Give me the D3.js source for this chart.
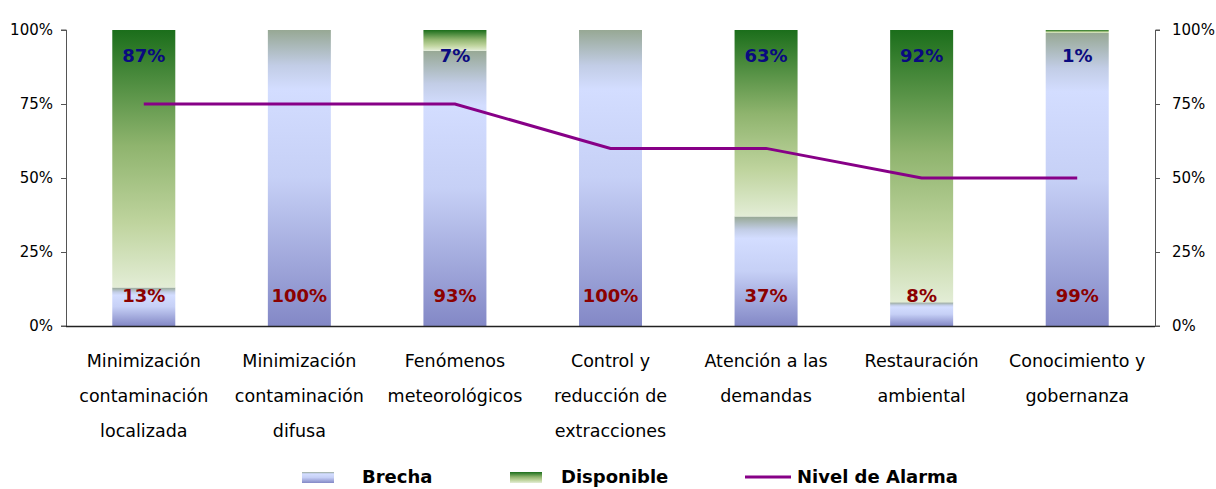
<!DOCTYPE html>
<html>
<head>
<meta charset="utf-8">
<script src="https://cdn.jsdelivr.net/npm/d3@7/dist/d3.min.js"></script>
<style>
  html, body { margin: 0; padding: 0; background: #fff; }
  svg text { font-family: "DejaVu Sans", Verdana, sans-serif; }
</style>
</head>
<body>
<svg id="chart" width="1216" height="489"></svg>
<script>
// Programme lines (categories)
const categories = [
  ["Minimización", "contaminación", "localizada"],
  ["Minimización", "contaminación", "difusa"],
  ["Fenómenos", "meteorológicos"],
  ["Control y", "reducción de", "extracciones"],
  ["Atención a las", "demandas"],
  ["Restauración", "ambiental"],
  ["Conocimiento y", "gobernanza"]
];
// Percentages per category
const brecha     = [13, 100, 93, 100, 37, 8, 99];
const disponible = [87, 0, 7, 0, 63, 92, 1];
const alarma     = [75, 75, 75, 60, 60, 50, 50];
const yTicks     = [0, 25, 50, 75, 100];

const svg = d3.select("#chart");
const plotLeft = 66, plotRight = 1155, plotTop = 30, plotBottom = 326;

const x = d3.scaleBand().domain(d3.range(categories.length)).range([plotLeft, plotRight]).paddingInner(0.595).paddingOuter(0.2975);
const y = d3.scaleLinear().domain([0, 100]).range([plotBottom, plotTop]);

const defs = svg.append("defs");
const gB = defs.append("linearGradient").attr("id", "gBrecha").attr("x1", 0).attr("y1", 0).attr("x2", 0).attr("y2", 1);
[[0, "#97a894"], [0.12, "#c2cde6"], [0.2, "#d3ddff"], [0.5, "#c6d0f6"], [1, "#8388c6"]]
  .forEach(([o, c]) => gB.append("stop").attr("offset", o).attr("stop-color", c));
const gD = defs.append("linearGradient").attr("id", "gDisp").attr("x1", 0).attr("y1", 0).attr("x2", 0).attr("y2", 1);
[[0, "#1b6e1b"], [0.45, "#8fb46e"], [0.75, "#bfd49e"], [1, "#e3edd6"]]
  .forEach(([o, c]) => gD.append("stop").attr("offset", o).attr("stop-color", c));

// stacked bars: Brecha at bottom, Disponible on top
const bw = x.bandwidth();
categories.forEach((c, i) => {
  const b = brecha[i], d = disponible[i];
  if (b > 0) svg.append("rect").attr("x", x(i)).attr("y", y(b)).attr("width", bw).attr("height", y(0) - y(b)).attr("fill", "url(#gBrecha)");
  if (d > 0) svg.append("rect").attr("x", x(i)).attr("y", y(b + d)).attr("width", bw).attr("height", y(b) - y(b + d)).attr("fill", "url(#gDisp)");
});

// axes
const yl = d3.axisLeft(y).tickValues(yTicks).tickFormat(d => d + "%").tickSize(5).tickPadding(8);
const yr = d3.axisRight(y).tickValues(yTicks).tickFormat(d => d + "%").tickSize(5).tickPadding(12);
function styleAxis(g) {
  g.select(".domain").attr("stroke", "#555").attr("stroke-width", 1);
  g.selectAll(".tick line").attr("stroke", "#555");
  g.selectAll("text").attr("font-size", 15).attr("fill", "#000").style("font-family", "'DejaVu Sans', Verdana, sans-serif");
}
svg.append("g").attr("transform", `translate(${plotLeft},0)`).call(yl).call(styleAxis).call(g => g.select(".domain").attr("d", `M-5,${plotTop}H0.5V${plotBottom}H-5`));
svg.append("g").attr("transform", `translate(${plotRight},0)`).call(yr).call(styleAxis).call(g => g.select(".domain").attr("d", `M5,${plotTop}H0.5V${plotBottom}H5`));
svg.append("line").attr("x1", plotLeft).attr("x2", plotRight).attr("y1", plotBottom + 0.5).attr("y2", plotBottom + 0.5).attr("stroke", "#222").attr("stroke-width", 1.5);

// alarm line
const line = d3.line().x((d, i) => x(i) + bw / 2).y(d => y(d));
svg.append("path").datum(alarma).attr("d", line).attr("fill", "none").attr("stroke", "#870087").attr("stroke-width", 3);

// value labels
categories.forEach((c, i) => {
  const cx = x(i) + bw / 2;
  if (brecha[i] > 0) svg.append("text").attr("x", cx).attr("y", y(0) - 24).attr("text-anchor", "middle")
    .attr("font-size", 18).attr("font-weight", "bold").attr("fill", "#8b0000").text(brecha[i] + "%");
  if (disponible[i] > 0) svg.append("text").attr("x", cx).attr("y", y(100) + 32).attr("text-anchor", "middle")
    .attr("font-size", 18).attr("font-weight", "bold").attr("fill", "#0a0a80").text(disponible[i] + "%");
});

// category labels
categories.forEach((lines, i) => {
  const t = svg.append("text").attr("x", x(i) + bw / 2).attr("y", 367).attr("text-anchor", "middle")
    .attr("font-size", 17.5).attr("fill", "#000");
  lines.forEach((l, k) => t.append("tspan").attr("x", x(i) + bw / 2).attr("dy", k === 0 ? 0 : 35).text(l));
});

// legend
const ly = 477;
svg.append("rect").attr("x", 302).attr("y", ly - 5).attr("width", 32).attr("height", 11).attr("fill", "url(#gBrecha)");
svg.append("text").attr("x", 362).attr("y", ly + 6).attr("font-size", 18).attr("font-weight", "bold").text("Brecha");
svg.append("rect").attr("x", 510).attr("y", ly - 5).attr("width", 32).attr("height", 11).attr("fill", "url(#gDisp)");
svg.append("text").attr("x", 561).attr("y", ly + 6).attr("font-size", 18).attr("font-weight", "bold").text("Disponible");
svg.append("line").attr("x1", 745).attr("x2", 791).attr("y1", ly).attr("y2", ly).attr("stroke", "#870087").attr("stroke-width", 3);
svg.append("text").attr("x", 797).attr("y", ly + 6).attr("font-size", 18).attr("font-weight", "bold").text("Nivel de Alarma");
</script>
</body>
</html>
